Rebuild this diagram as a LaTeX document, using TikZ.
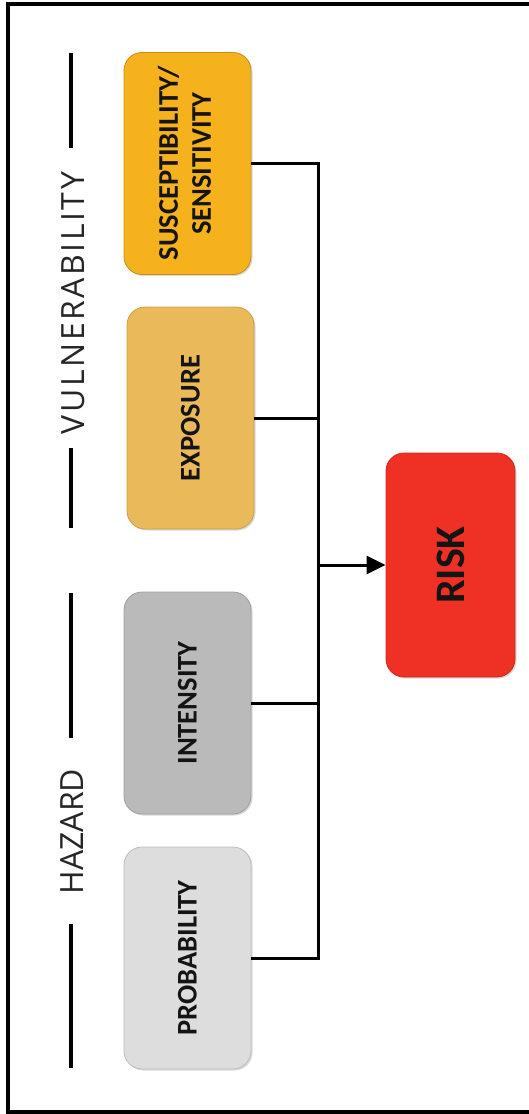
\documentclass[tikz,border=0pt]{standalone}
\usepackage{graphicx}
\usepackage{fontspec}
\setmainfont{Carlito}
\newfontfamily\labelfont{Open Sans}
\newfontfamily\labelfontwide[LetterSpace=8]{Open Sans}
\usetikzlibrary{arrows.meta,shadows}
\definecolor{suscol}{RGB}{246,178,28}
\definecolor{expcol}{RGB}{234,186,90}
\definecolor{intcol}{RGB}{186,186,186}
\definecolor{probcol}{RGB}{221,221,221}
\definecolor{riskcol}{RGB}{238,49,36}
\begin{document}
\begin{tikzpicture}[x=1pt,y=-1pt,
  box/.style={rounded corners=18pt, minimum width=127pt, minimum height=222pt,
    inner sep=0pt, font=\fontsize{28.5}{34}\selectfont\bfseries, text=black!92,
    line width=0.8pt,
    drop shadow={shadow xshift=1.5pt,shadow yshift=-1.5pt,opacity=0.3}},
  conn/.style={line width=3pt},
  grp/.style={font=\labelfont\fontsize{32}{38}\selectfont, inner sep=0pt, text=black!85, rotate=90},
  bar/.style={line width=3.2pt},
  frame/.style={line width=4pt}]
\useasboundingbox (0,0) rectangle (529,1114);
\draw[frame] (529,4) -- (8,4) -- (8,1112) -- (529,1112);
% boxes
\node[box, fill=suscol, draw=suscol!80!black] (sus) at (187.5,163.5)
  {\rotatebox{90}{\begin{tabular}{@{}c@{}}SUSCEPTIBILITY/\\[-1pt]SENSITIVITY\end{tabular}}};
\node[box, fill=expcol, draw=expcol!85!black] (exp) at (190.5,418) {\rotatebox{90}{EXPOSURE}};
\node[box, fill=intcol, draw=intcol!85!black] (int) at (187.5,703) {\rotatebox{90}{INTENSITY}};
\node[box, fill=probcol, draw=probcol!85!black] (prob) at (187.5,958) {\rotatebox{90}{PROBABILITY}};
\node[box, fill=riskcol, draw=riskcol!85!black, minimum width=129pt, minimum height=224pt,
  font=\fontsize{42}{50}\selectfont\bfseries] (risk) at (450.5,565) {\rotatebox{90}{RISK}};
% group labels
\node[grp, font=\labelfontwide\fontsize{32}{38}\selectfont] (vul) at (73,303) {VULNERABILITY};
\node[grp] (haz) at (72,831.5) {HAZARD};
\draw[bar] (71,53) -- (71,148);
\draw[bar] (71,448) -- (71,528);
\draw[bar] (71,593) -- (71,738);
\draw[bar] (71,924) -- (71,1068);
% connectors
\coordinate (bus) at (318,565);
\draw[conn] (sus.east) -| (bus);
\draw[conn] (prob.east) -| (bus);
\draw[conn] (exp.east) -- (exp.east -| bus);
\draw[conn] (int.east) -- (int.east -| bus);
\draw[conn, -{Triangle[length=19pt,width=18pt]}] (bus) -- (risk.west);
\end{tikzpicture}
\end{document}
